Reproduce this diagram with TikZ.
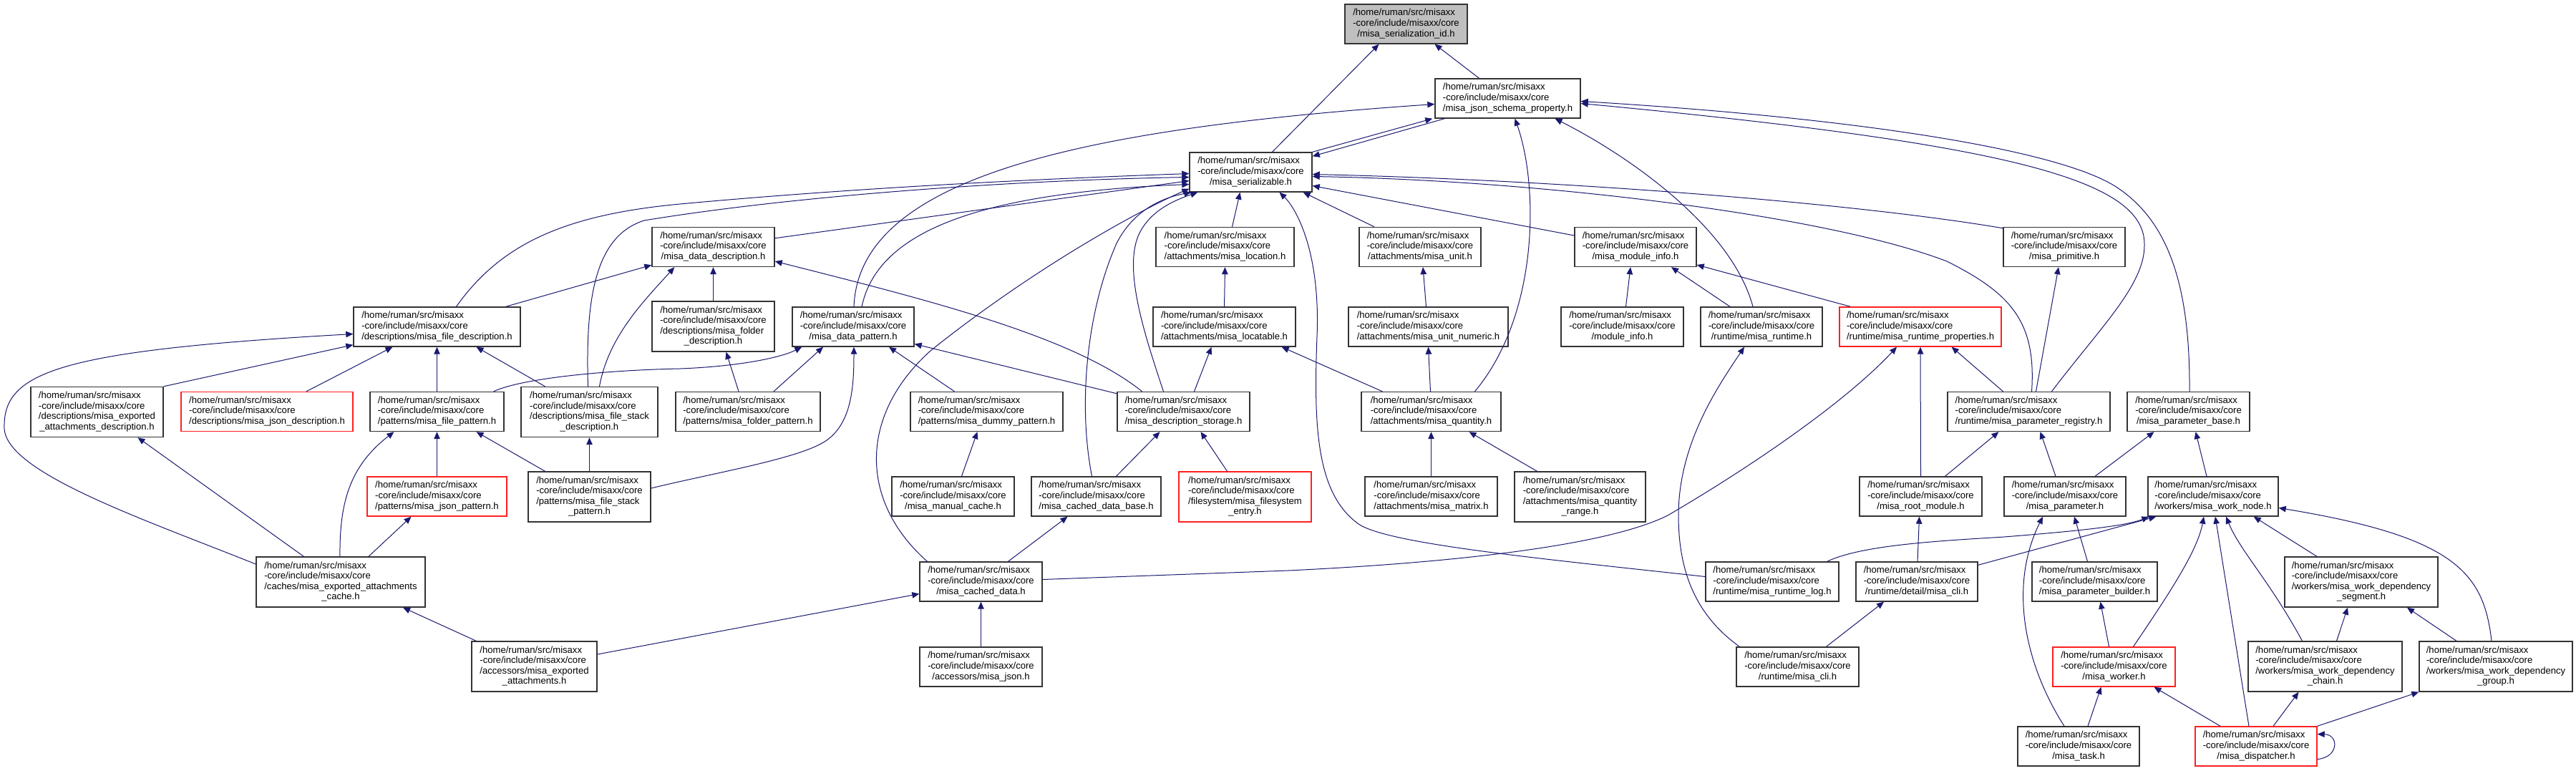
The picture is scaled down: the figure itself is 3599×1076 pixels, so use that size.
\documentclass[tikz,border=0pt]{standalone}
\usepackage{fontspec}
\setmainfont{Liberation Sans}
\usetikzlibrary{arrows.meta,calc}
\definecolor{edgeblue}{HTML}{191970}
\definecolor{boxborder}{HTML}{333333}
\definecolor{redborder}{HTML}{FF2020}
\definecolor{grayfill}{HTML}{BFBFBF}
\newcommand{\HdLines}{/home/ruman/src/misaxx\\-core/include/misaxx/core}
\newcommand{\LblThree}[1]{\begin{tabular}{@{}l@{}}\HdLines\\\multicolumn{1}{@{}c@{}}{#1}\end{tabular}}
\newcommand{\LblFour}[2]{\begin{tabular}{@{}l@{}}\HdLines\\#1\\\multicolumn{1}{@{}c@{}}{#2}\end{tabular}}
\tikzset{
  box/.style={draw=boxborder, line width=1.4pt, fill=white, inner sep=0pt, minimum height=55pt, font={\fontsize{13.1}{14.6}\selectfont}},
  redbox/.style={box, draw=redborder},
  tall/.style={minimum height=70pt},
  dep/.style={draw=edgeblue, line width=1pt, -{Triangle[length=10pt,width=8.5pt]}}
}
\begin{document}
\begin{tikzpicture}[x=1pt,y=-1pt]
\fill[white] (0,0) rectangle (3599,1076);
\useasboundingbox (0,0) rectangle (3599,1076);
% nodes
\node[box,minimum width=171pt,fill=grayfill] (serid) at (1964.5,33.5) {\LblThree{/misa\_serialization\_id.h}};
\node[box,minimum width=203pt] (jsp) at (2106.5,137.5) {\LblThree{/misa\_json\_schema\_property.h}};
\node[box,minimum width=171pt] (ser) at (1747.5,240.5) {\LblThree{/misa\_serializable.h}};
\node[box,minimum width=170pt] (unit) at (1984,345) {\LblThree{/attachments/misa\_unit.h}};
\node[box,minimum width=170pt] (modinfo) at (2285,345) {\LblThree{/misa\_module\_info.h}};
\node[box,minimum width=170pt] (prim) at (2884,345) {\LblThree{/misa\_primitive.h}};
\node[box,minimum width=171pt] (datadesc) at (996.5,345) {\LblThree{/misa\_data\_description.h}};
\node[box,minimum width=193pt] (location) at (1711.5,345) {\LblThree{/attachments/misa\_location.h}};
\node[box,tall,minimum width=171pt] (folderdesc) at (996.5,456) {\LblFour{/descriptions/misa\_folder}{\_description.h}};
\node[box,minimum width=170pt] (datapattern) at (1192,456.5) {\LblThree{/misa\_data\_pattern.h}};
\node[box,minimum width=199pt] (locatable) at (1710.5,456.5) {\LblThree{/attachments/misa\_locatable.h}};
\node[box,minimum width=233pt] (filedesc) at (610.5,456.5) {\LblThree{/descriptions/misa\_file\_description.h}};
\node[box,minimum width=223pt] (unitnum) at (1995.5,456.5) {\LblThree{/attachments/misa\_unit\_numeric.h}};
\node[box,minimum width=171pt] (moduleinfo) at (2266.5,456.5) {\LblThree{/module\_info.h}};
\node[box,minimum width=170pt] (runtime) at (2461,456.5) {\LblThree{/runtime/misa\_runtime.h}};
\node[redbox,minimum width=226pt] (rtprops) at (2683,456.5) {\LblThree{/runtime/misa\_runtime\_properties.h}};
\node[box,tall,minimum width=185pt] (expattdesc) at (135.5,575.5) {\LblFour{/descriptions/misa\_exported}{\_attachments\_description.h}};
\node[redbox,minimum width=240pt] (jsondesc) at (373,575) {\LblThree{/descriptions/misa\_json\_description.h}};
\node[box,minimum width=187pt] (filepattern) at (610.5,575) {\LblThree{/patterns/misa\_file\_pattern.h}};
\node[box,tall,minimum width=191pt] (filestackdesc) at (823.5,575.5) {\LblFour{/descriptions/misa\_file\_stack}{\_description.h}};
\node[box,minimum width=202pt] (folderpattern) at (1045,575) {\LblThree{/patterns/misa\_folder\_pattern.h}};
\node[box,minimum width=213pt] (dummypattern) at (1378.5,575) {\LblThree{/patterns/misa\_dummy\_pattern.h}};
\node[box,minimum width=185pt] (descstorage) at (1653.5,575) {\LblThree{/misa\_description\_storage.h}};
\node[box,minimum width=195pt] (quantity) at (1999.5,575) {\LblThree{/attachments/misa\_quantity.h}};
\node[box,minimum width=227pt] (paramreg) at (2834.5,575) {\LblThree{/runtime/misa\_parameter\_registry.h}};
\node[box,minimum width=171pt] (parambase) at (3057.5,575) {\LblThree{/misa\_parameter\_base.h}};
\node[redbox,minimum width=195pt] (jsonpattern) at (610.5,693.5) {\LblThree{/patterns/misa\_json\_pattern.h}};
\node[box,tall,minimum width=171pt] (filestackpattern) at (823.5,694) {\LblFour{/patterns/misa\_file\_stack}{\_pattern.h}};
\node[box,minimum width=171pt] (manualcache) at (1331.5,693.5) {\LblThree{/misa\_manual\_cache.h}};
\node[box,minimum width=181pt] (cacheddatabase) at (1531.5,693.5) {\LblThree{/misa\_cached\_data\_base.h}};
\node[redbox,tall,minimum width=185pt] (fsentry) at (1739.5,694) {\LblFour{/filesystem/misa\_filesystem}{\_entry.h}};
\node[box,minimum width=185pt] (matrix) at (1999.5,693.5) {\LblThree{/attachments/misa\_matrix.h}};
\node[box,tall,minimum width=183pt] (qrange) at (2207.5,694) {\LblFour{/attachments/misa\_quantity}{\_range.h}};
\node[box,minimum width=171pt] (rootmodule) at (2683.5,693.5) {\LblThree{/misa\_root\_module.h}};
\node[box,minimum width=170pt] (param) at (2885,693.5) {\LblThree{/misa\_parameter.h}};
\node[box,minimum width=182pt] (worknode) at (3092,693.5) {\LblThree{/workers/misa\_work\_node.h}};
\node[box,tall,minimum width=236pt] (expattcache) at (476,813) {\LblFour{/caches/misa\_exported\_attachments}{\_cache.h}};
\node[box,minimum width=171pt] (cacheddata) at (1370.5,812.5) {\LblThree{/misa\_cached\_data.h}};
\node[box,minimum width=186pt] (runtimelog) at (2476,812.5) {\LblThree{/runtime/misa\_runtime\_log.h}};
\node[box,minimum width=170pt] (detailcli) at (2678,812.5) {\LblThree{/runtime/detail/misa\_cli.h}};
\node[box,minimum width=175pt] (parambuilder) at (2926.5,812.5) {\LblThree{/misa\_parameter\_builder.h}};
\node[box,tall,minimum width=214pt] (depseg) at (3299,813) {\LblFour{/workers/misa\_work\_dependency}{\_segment.h}};
\node[box,tall,minimum width=175pt] (expatt) at (746.5,931) {\LblFour{/accessors/misa\_exported}{\_attachments.h}};
\node[box,minimum width=171pt] (misajson) at (1370.5,931.5) {\LblThree{/accessors/misa\_json.h}};
\node[box,minimum width=171pt] (cli) at (2511.5,931.5) {\LblThree{/runtime/misa\_cli.h}};
\node[redbox,minimum width=171pt] (worker) at (2953.5,931.5) {\LblThree{/misa\_worker.h}};
\node[box,tall,minimum width=215pt] (depchain) at (3248.5,931) {\LblFour{/workers/misa\_work\_dependency}{\_chain.h}};
\node[box,tall,minimum width=214pt] (depgroup) at (3487,931) {\LblFour{/workers/misa\_work\_dependency}{\_group.h}};
\node[box,minimum width=170pt] (task) at (2904,1042.5) {\LblThree{/misa\_task.h}};
\node[redbox,minimum width=170pt] (dispatcher) at (3152,1042.5) {\LblThree{/misa\_dispatcher.h}};
% edges
\draw[dep] ($(ser.north)+(30,0)$) -- ($(serid.south)+(-38,0)$);
\draw[dep] ($(jsp.north)+(-40,0)$) -- ($(serid.south)+(40,0)$);
\draw[dep] (ser.north east) -- ($(jsp.south west)+(-3,0)$);
\draw[dep] ($(jsp.south west)+(14,0)$) -- ($(ser.north east)+(0,6)$);
\draw[dep] ($(datapattern.north)+(1,0)$) .. controls (1200,250) and (1500,180) .. ($(jsp.west)+(0,8)$);
\draw[dep] ($(quantity.north)+(61,0)$) .. controls (2150,440) and (2150,260) .. ($(jsp.south)+(10,0)$);
\draw[dep] ($(runtime.north)+(-12,0)$) .. controls (2420,320) and (2280,220) .. ($(jsp.south)+(66,0)$);
\draw[dep] ($(parambase.north)+(1.5,0)$) .. controls (3060,400) and (3030,310) .. (2958,262) .. controls (2880,210) and (2600,165) .. ($(jsp.east)+(0,4)$);
\draw[dep] ($(paramreg.north)+(32,0)$) .. controls (2940,450) and (3005,390) .. (2995,330) .. controls (2980,250) and (2800,200) .. ($(jsp.east)+(0,7)$);
\draw[dep] ($(filedesc.north)+(27,0)$) .. controls (700,340) and (790,300) .. (950,285) .. controls (1200,262) and (1450,250) .. ($(ser.west)+(0,2)$);
\draw[dep] ($(filestackdesc.north)+(-2,0)$) .. controls (818,420) and (830,330) .. (900,308) .. controls (1100,275) and (1400,252) .. ($(ser.west)+(0,7)$);
\draw[dep] ($(datadesc.north east)+(0,16)$) -- ($(ser.west)+(0,12)$);
\draw[dep] ($(datapattern.north)+(12,0)$) .. controls (1225,330) and (1350,270) .. ($(ser.west)+(0,17)$);
\draw[dep] ($(cacheddata.north)+(-75,0)$) .. controls (1200,700) and (1200,580) .. (1300,490) .. controls (1450,370) and (1600,290) .. ($(ser.south west)+(0,-5)$);
\draw[dep] ($(cacheddatabase.north)+(-6,0)$) .. controls (1505,560) and (1520,430) .. (1560,340) .. controls (1585,290) and (1630,275) .. ($(ser.south west)+(3,0)$);
\draw[dep] ($(descstorage.north)+(-28,0)$) .. controls (1600,470) and (1570,380) .. (1590,330) .. controls (1605,295) and (1640,280) .. ($(ser.south west)+(12,0)$);
\draw[dep] ($(location.north)+(10,0)$) -- ($(ser.south)+(-15,0)$);
\draw[dep] ($(unit.north)+(-64,0)$) -- ($(ser.south east)+(-13,0)$);
\draw[dep] ($(modinfo.west)+(0,-16)$) -- ($(ser.east)+(0,19)$);
\draw[dep] ($(runtimelog.west)+(0,-7)$) .. controls (2150,780) and (1940,760) .. (1898,732) .. controls (1840,690) and (1835,600) .. (1840,470) .. controls (1845,350) and (1810,290) .. ($(ser.south)+(40,0)$);
\draw[dep] ($(prim.north west)+(0,2)$) .. controls (2600,285) and (2200,252) .. ($(ser.east)+(0,3)$);
\draw[dep] ($(paramreg.north)+(4,0)$) .. controls (2845,450) and (2810,410) .. (2720,365) .. controls (2550,300) and (2150,252) .. ($(ser.east)+(0,6)$);
\draw[dep] ($(filedesc.north east)+(-21,0)$) -- ($(datadesc.south west)+(0,-3)$);
\draw[dep] ($(filestackdesc.north)+(14,0)$) .. controls (850,470) and (900,420) .. ($(datadesc.south west)+(32,0)$);
\draw[dep] (folderdesc.north) -- (datadesc.south);
\draw[dep] ($(descstorage.north)+(-58,0)$) .. controls (1500,470) and (1300,420) .. ($(datadesc.east)+(0,20)$);
\draw[dep] ($(expattcache.west)+(0,-25)$) .. controls (200,725) and (8,660) .. (6,598) .. controls (4,520) and (80,490) .. ($(filedesc.west)+(0,10)$);
\draw[dep] (expattdesc.north east) -- ($(filedesc.south west)+(0,-3)$);
\draw[dep] ($(jsondesc.north)+(55,0)$) -- ($(filedesc.south)+(-62,0)$);
\draw[dep] (filepattern.north) -- (filedesc.south);
\draw[dep] ($(filestackdesc.north)+(-62,0)$) -- ($(filedesc.south)+(55,0)$);
\draw[dep] ($(filepattern.north east)+(-15,0)$) .. controls (730,528) and (850,517) .. (950,515) .. controls (1030,512) and (1090,500) .. ($(datapattern.south west)+(14,0)$);
\draw[dep] ($(folderpattern.north)+(36,0)$) -- ($(datapattern.south)+(-42,0)$);
\draw[dep] ($(folderpattern.north)+(-13,0)$) -- ($(folderdesc.south)+(18,0)$);
\draw[dep] ($(filestackpattern.east)+(0,-12)$) .. controls (1000,660) and (1120,640) .. (1155,615) .. controls (1190,590) and (1193,540) .. ($(datapattern.south)+(1,0)$);
\draw[dep] ($(dummypattern.north)+(-45,0)$) -- ($(datapattern.south)+(50,0)$);
\draw[dep] ($(descstorage.north west)+(0,3)$) -- ($(datapattern.east)+(0,24)$);
\draw[dep] ($(descstorage.north)+(15,0)$) -- ($(locatable.south)+(-18,0)$);
\draw[dep] (locatable.north) -- (location.south);
\draw[dep] ($(quantity.north west)+(30,0)$) -- ($(locatable.south east)+(-20,0)$);
\draw[dep] ($(quantity.north)+(-1,0)$) -- (unitnum.south);
\draw[dep] ($(unitnum.north)+(-3,0)$) -- ($(unit.south)+(4,0)$);
\draw[dep] (matrix.north) -- (quantity.south);
\draw[dep] ($(qrange.north)+(-60,0)$) -- ($(quantity.south)+(53,0)$);
\draw[dep] ($(cacheddatabase.north)+(28,0)$) -- ($(descstorage.south)+(-33,0)$);
\draw[dep] ($(fsentry.north)+(-25,0)$) -- ($(descstorage.south)+(24,0)$);
\draw[dep] ($(manualcache.north)+(12,0)$) -- ($(dummypattern.south)+(-13,0)$);
\draw[dep] ($(cacheddata.north)+(38,0)$) -- ($(cacheddatabase.south)+(-40,0)$);
\draw[dep] (misajson.north) -- (cacheddata.south);
\draw[dep] ($(expatt.east)+(0,-17)$) -- ($(cacheddata.west)+(0,17)$);
\draw[dep] ($(cacheddata.east)+(0,-3)$) -- (1800,797) .. controls (2050,785) and (2250,760) .. (2330,720) .. controls (2450,650) and (2580,560) .. ($(rtprops.south)+(-33,0)$);
\draw[dep] ($(runtime.north)+(-44,0)$) -- ($(modinfo.south)+(50,0)$);
\draw[dep] ($(moduleinfo.north)+(5,0)$) -- ($(modinfo.south)+(-7,0)$);
\draw[dep] ($(rtprops.north west)+(16,0)$) -- ($(modinfo.east)+(0,25)$);
\draw[dep] ($(cli.north west)+(5,0)$) .. controls (2370,860) and (2345,800) .. (2345,720) .. controls (2345,620) and (2400,540) .. ($(runtime.south)+(-24,0)$);
\draw[dep] (rootmodule.north) -- (rtprops.south);
\draw[dep] ($(paramreg.north)+(-36,0)$) -- ($(rtprops.south east)+(-70,0)$);
\draw[dep] ($(paramreg.north)+(10,0)$) -- ($(prim.south)+(-8,0)$);
\draw[dep] ($(rootmodule.north)+(34,0)$) -- ($(paramreg.south)+(-42,0)$);
\draw[dep] ($(param.north)+(-13,0)$) -- ($(paramreg.south)+(16,0)$);
\draw[dep] ($(param.north)+(42,0)$) -- ($(parambase.south)+(-48,0)$);
\draw[dep] ($(worknode.north)+(-9,0)$) -- ($(parambase.south)+(10,0)$);
\draw[dep] ($(detailcli.north)+(1,0)$) -- ($(rootmodule.south)+(-2,0)$);
\draw[dep] ($(cli.north)+(40,0)$) -- ($(detailcli.south)+(-46,0)$);
\draw[dep] ($(runtimelog.north east)+(-17,0)$) .. controls (2600,762) and (2700,756) .. (2800,750) .. controls (2900,742) and (2970,735) .. ($(worknode.south west)+(2,0)$);
\draw[dep] ($(detailcli.north east)+(0,5)$) -- ($(worknode.south west)+(12,0)$);
\draw[dep] ($(worker.north)+(27,0)$) .. controls (3030,830) and (3070,770) .. ($(worknode.south)+(-13,0)$);
\draw[dep] ($(dispatcher.north)+(-10,0)$) -- ($(worknode.south)+(3,0)$);
\draw[dep] ($(depchain.north)+(-32,0)$) .. controls (3170,810) and (3130,770) .. ($(worknode.south)+(18,0)$);
\draw[dep] ($(depseg.north)+(-62,0)$) -- ($(worknode.south east)+(-35,0)$);
\draw[dep] ($(depgroup.north)+(-6,0)$) .. controls (3470,800) and (3430,750) .. ($(worknode.east)+(0,16)$);
\draw[dep] ($(parambuilder.north)+(-10,0)$) -- ($(param.south)+(13,0)$);
\draw[dep] ($(task.north)+(-20,0)$) .. controls (2830,930) and (2805,820) .. ($(param.south)+(-31,0)$);
\draw[dep] ($(worker.north)+(-7,0)$) -- ($(parambuilder.south)+(8,0)$);
\draw[dep] ($(task.north)+(13,0)$) -- ($(worker.south)+(-18,0)$);
\draw[dep] ($(dispatcher.north)+(-50,0)$) -- ($(worker.south)+(56,0)$);
\draw[dep] ($(dispatcher.north)+(24,0)$) -- ($(depchain.south)+(-37,0)$);
\draw[dep] (dispatcher.north east) -- (depgroup.south west);
\draw[dep] ($(depchain.north)+(16,0)$) -- ($(depseg.south)+(-19,0)$);
\draw[dep] ($(depgroup.north)+(-55,0)$) -- ($(depseg.south)+(64,0)$);
\draw[dep] ($(dispatcher.east)+(0,18)$) .. controls (3268,1058) and (3268,1026) .. ($(dispatcher.east)+(0,-17)$);
\draw[dep] ($(expattcache.north west)+(67,0)$) -- ($(expattdesc.south)+(57,0)$);
\draw[dep] ($(expattcache.north)+(-1,0)$) .. controls (474,700) and (490,650) .. ($(filepattern.south)+(-60,0)$);
\draw[dep] ($(expattcache.north)+(39,0)$) -- ($(jsonpattern.south)+(-36,0)$);
\draw[dep] ($(expatt.north west)+(7,0)$) -- ($(expattcache.south)+(87,0)$);
\draw[dep] (jsonpattern.north) -- (filepattern.south);
\draw[dep] ($(filestackpattern.north)+(-62,0)$) -- ($(filepattern.south)+(55,0)$);
\draw[dep] (filestackpattern.north) -- (filestackdesc.south);
\end{tikzpicture}
\end{document}
